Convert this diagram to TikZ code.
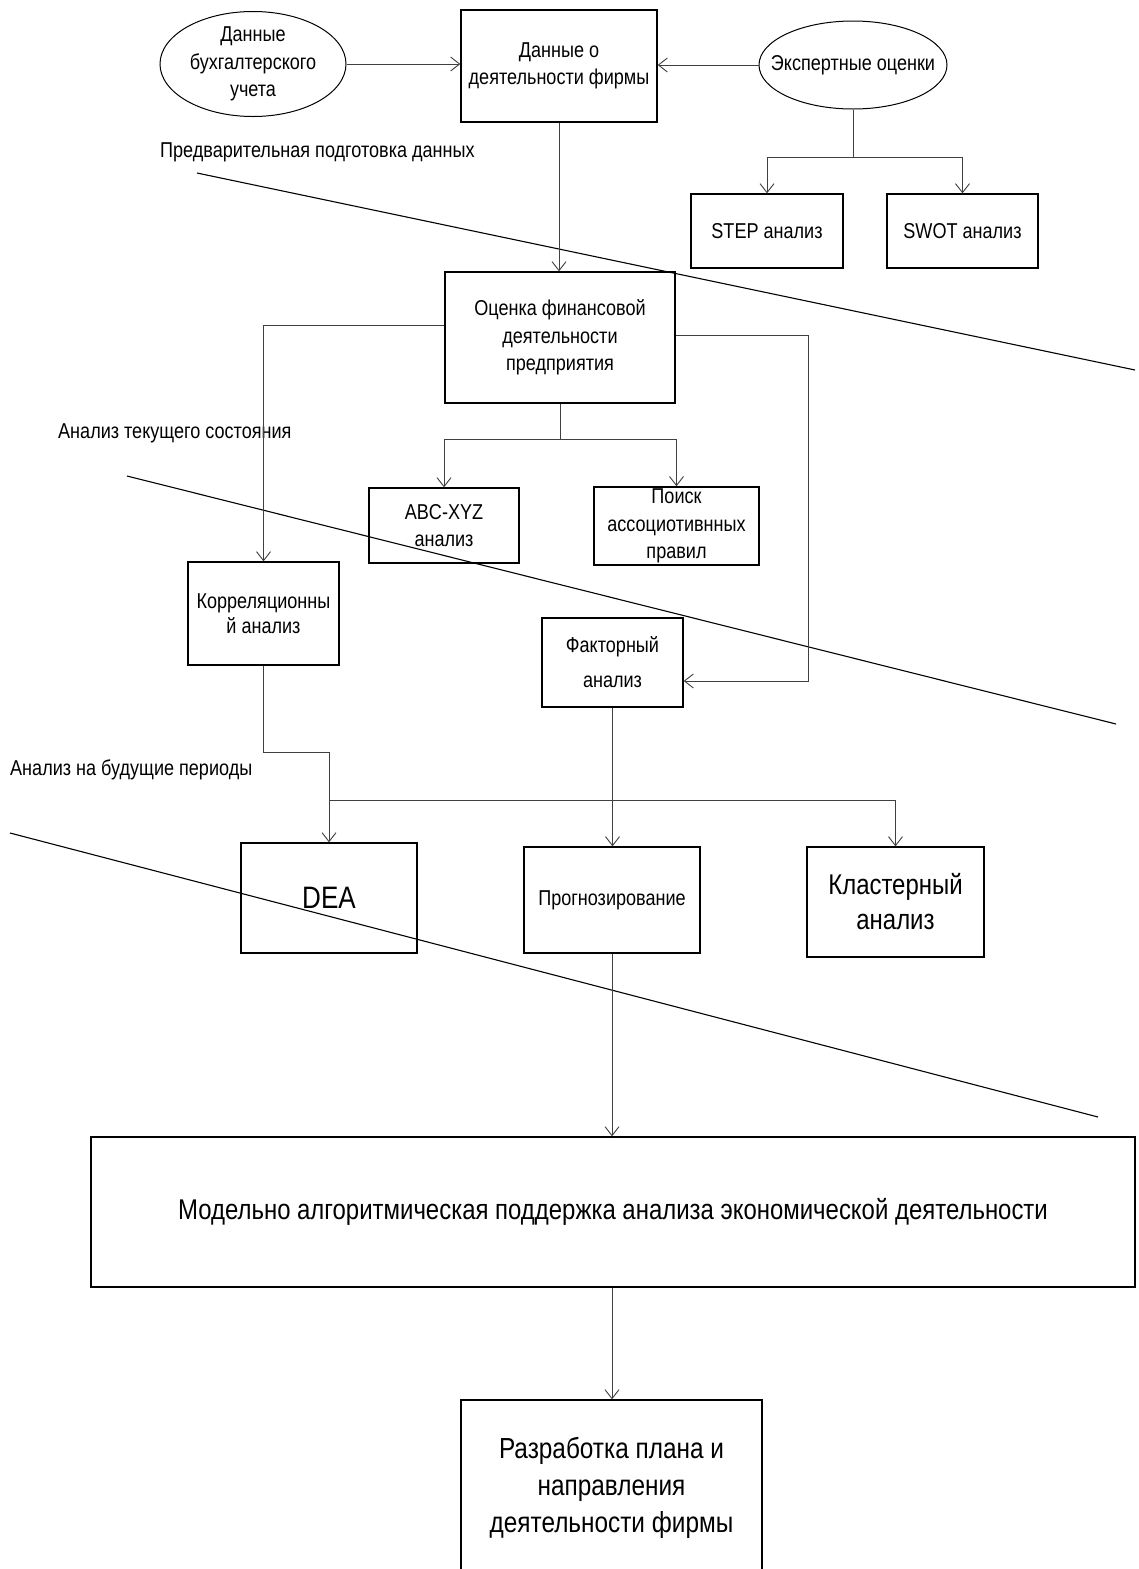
\documentclass[tikz,border=0pt]{standalone}
\usepackage{fontspec}
\setmainfont{Liberation Sans}[FakeStretch=0.84]
\usetikzlibrary{arrows.meta,shapes.geometric,calc}
\begin{document}
\begin{tikzpicture}[x=1pt,y=-1pt,
  every node/.style={font=\fontsize{21.5}{27.5}\selectfont},
  box/.style={draw=black,line width=1.3pt,rectangle,align=center,inner sep=2pt},
  oval/.style={draw=black,line width=1pt,ellipse,align=center,inner sep=0pt},
  conn/.style={draw=black!75,line width=1pt},
  arr/.style={conn,-{Straight Barb[length=9pt,width=14pt,line width=0.9pt]}},
  diag/.style={draw=black,line width=1.1pt},
  lbl/.style={anchor=west,inner sep=0pt}]
\useasboundingbox[fill=white] (0,0) rectangle (1138,1569);

% nodes
\node[oval,minimum width=186pt,minimum height=94pt,inner xsep=-8pt] (buh) at (253,64) {Данные\\бухгалтерского\\учета};
\node[box,minimum width=196pt,minimum height=112pt] (data) at (559,66) {Данные о\\деятельности фирмы};
\node[oval,minimum width=188pt,minimum height=88pt,inner xsep=-17pt] (exp) at (853,65) {Экспертные оценки};
\node[box,minimum width=152pt,minimum height=74pt] (step) at (767,231) {STEP анализ};
\node[box,minimum width=151pt,minimum height=74pt] (swot) at (962.5,231) {SWOT анализ};
\node[box,minimum width=230pt,minimum height=131pt] (ots) at (560,337.5) {Оценка финансовой\\деятельности\\предприятия};
\node[box,minimum width=150pt,minimum height=75pt] (abc) at (444,525.5) {ABC-XYZ\\анализ};
\node[box,minimum width=165pt,minimum height=78pt] (poisk) at (676.5,526) {Поиск\\ассоциотивнных\\правил};
\node[box,minimum width=151pt,minimum height=103pt,font=\fontsize{21.5}{25}\selectfont] (korr) at (263.5,613.5) {Корреляционны\\й анализ};
\node[box,minimum width=141pt,minimum height=89pt,font=\fontsize{21.5}{35}\selectfont] (fakt) at (612.5,662.5) {Факторный\\анализ};
\node[box,minimum width=176pt,minimum height=110pt,font=\fontsize{31}{36}\selectfont] (dea) at (329,898) {DEA};
\node[box,minimum width=176pt,minimum height=106pt] (prog) at (612,900) {Прогнозирование};
\node[box,minimum width=177pt,minimum height=110pt,font=\fontsize{28.5}{35}\selectfont] (klast) at (895.5,902) {Кластерный\\анализ};
\node[box,minimum width=1044pt,minimum height=150pt,font=\fontsize{28.5}{32}\selectfont] (model) at (613,1212) {Модельно алгоритмическая поддержка анализа экономической деятельности};
\node[box,minimum width=301pt,minimum height=176pt,font=\fontsize{29}{37}\selectfont] (razr) at (611.5,1488) {Разработка плана и\\направления\\деятельности фирмы};

% section labels
\node[lbl] (l1) at (160,152) {Предварительная подготовка данных};
\node[lbl] (l2) at (58,433) {Анализ текущего состояния};
\node[lbl] (l3) at (10,770) {Анализ на будущие периоды};

% diagonal separators
\coordinate (d1a) at (197,173); \coordinate (d1b) at (1135,370);
\coordinate (d2a) at (127,476); \coordinate (d2b) at (1116,724);
\coordinate (d3a) at (10,833);  \coordinate (d3b) at (1098,1117);
\draw[diag] (d1a) -- (d1b);
\draw[diag] (d2a) -- (d2b);
\draw[diag] (d3a) -- (d3b);

% connectors
\draw[arr] (buh.east) -- (buh.east -| data.west);
\draw[arr] (exp.west) -- (exp.west -| data.east);
\coordinate (j1) at (853,157);
\draw[conn] (exp.south) -- (j1);
\draw[arr] (j1) -| (step.north);
\draw[arr] (j1) -| (swot.north);
\draw[arr] (data.south) -- (data.south |- ots.north);
\coordinate (jl) at (263.5,325);
\draw[arr] (ots.west |- jl) -- (jl) -- (korr.north);
\coordinate (jr) at (808,335);
\coordinate (jr2) at (808,681);
\draw[arr] (ots.east |- jr) -- (jr) -- (jr2) -- (jr2 -| fakt.east);
\coordinate (j2) at (560,439);
\draw[conn] (ots.south) -- (j2);
\draw[arr] (j2) -| (abc.north);
\draw[arr] (j2) -| (poisk.north);
\coordinate (j3) at (329,752);
\draw[arr] (korr.south) |- (j3) -- (dea.north);
\draw[arr] (fakt.south) -- (fakt.south |- prog.north);
\coordinate (j4) at (329,800);
\coordinate (j5) at (895.5,800);
\draw[arr] (j4) -- (j5) -- (klast.north);
\draw[arr] (prog.south) -- (prog.south |- model.north);
\draw[arr] (model.south -| prog.south) -- (prog.south |- razr.north);
\end{tikzpicture}
\end{document}
